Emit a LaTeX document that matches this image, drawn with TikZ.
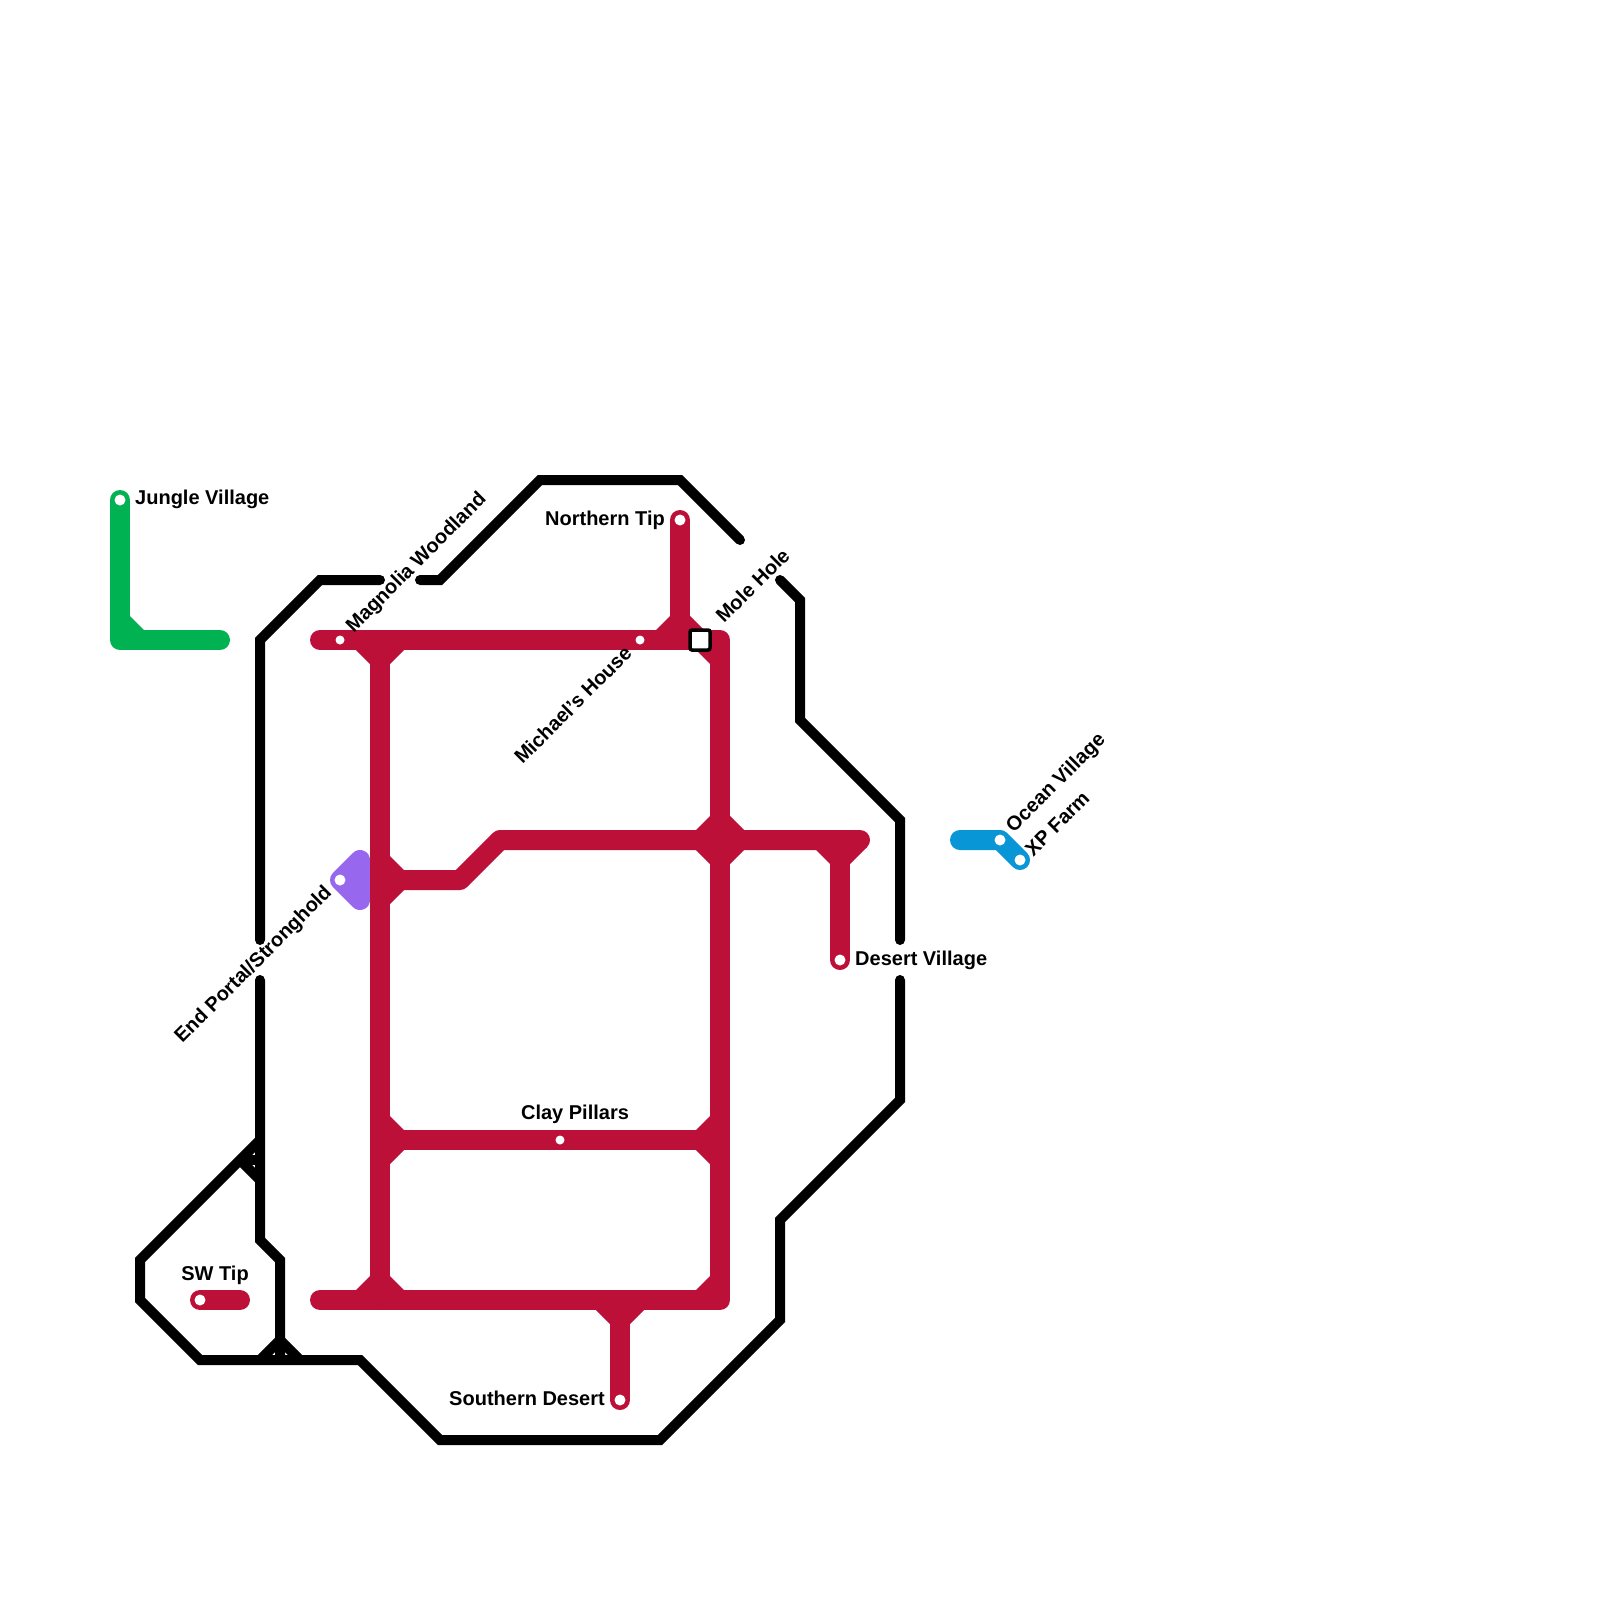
\documentclass[tikz,border=0pt]{standalone}
\usepackage{xcolor}
\usepackage{fontspec}
\setmainfont{Liberation Sans}
\usepackage{tikz}
\usetikzlibrary{positioning, backgrounds}
\definecolor{mtred}{HTML}{BD1038}
\definecolor{mtgreen}{HTML}{00B251}
\definecolor{mtblue}{HTML}{0896D7}
\definecolor{mtpurple}{HTML}{9768EE}
\newcommand{\fillet}[4]{\fill[#1, shift={(#2)}, xscale=#3, yscale=#4] (10,10) -- (24,10) -- (10,24) -- cycle;}

\begin{document}
\begin{tikzpicture}[
  x=1pt, y=-1pt,
  metro/.style={line width=20pt, line cap=round, line join=round},
  tunnel/.style={draw=black, line width=10pt, line cap=round, line join=miter},
  stub/.style={draw=black, line width=10pt, line cap=butt},
  stop/.style={circle, fill=white, inner sep=0pt, minimum size=11pt},
  halt/.style={circle, fill=white, inner sep=0pt, minimum size=9pt},
  transfer/.style={draw=black, fill=white, line width=3.5pt, rounded corners=2pt, inner sep=0pt, minimum size=20pt},
  lbl/.style={inner sep=0pt, on grid, font=\fontsize{20}{24}\selectfont\bfseries},
  up/.style={rotate=45, anchor=west},
  down/.style={rotate=45, anchor=east}
]
  \useasboundingbox (0,0) rectangle (1600,1600);

  \coordinate (jTL) at (380,640);
  \coordinate (jTR) at (720,640);
  \coordinate (jBL) at (380,1300);
  \coordinate (jBR) at (720,1300);
  \coordinate (jMidL) at (380,880);
  \coordinate (jMidR) at (720,840);
  \coordinate (jClayL) at (380,1140);
  \coordinate (jClayR) at (720,1140);
  \coordinate (jNorth) at (680,640);
  \coordinate (jSouth) at (620,1300);
  \coordinate (jDesert) at (840,840);
  \coordinate (jJungle) at (120,640);
  \coordinate (eNW) at (320,640);
  \coordinate (eSW) at (320,1300);
  \coordinate (eMidA) at (460,880);
  \coordinate (eMidB) at (500,840);
  \coordinate (eMidC) at (860,840);
  \coordinate (eTip) at (240,1300);
  \coordinate (eJungle) at (220,640);
  \coordinate (eOcean) at (960,840);

  \node[stop] (stJungle) at (120,500) {};
  \node[stop] (stNorth) at (680,520) {};
  \node[stop] (stDesert) at (840,960) {};
  \node[stop] (stSouth) at (620,1400) {};
  \node[stop] (stTip) at (200,1300) {};
  \node[stop] (stEnd) at (340,880) {};
  \node[stop] (stOcean) at (1000,840) {};
  \node[stop] (stFarm) at (1020,860) {};
  \node[halt] (stMagnolia) at (340,640) {};
  \node[halt] (stMichael) at (640,640) {};
  \node[halt] (stClay) at (560,1140) {};
  \node[transfer] (stMole) at (700,640) {};

  \node[lbl, above right=0.5pt and 15pt of stJungle, anchor=west] (lbJungle) {Jungle Village};
  \node[lbl, left=15pt of stNorth, anchor=east] (lbNorth) {Northern Tip};
  \node[lbl, right=15pt of stDesert, anchor=west] (lbDesert) {Desert Village};
  \node[lbl, above left=2pt and 15pt of stSouth, anchor=east] (lbSouth) {Southern Desert};
  \node[lbl, above right=25pt and 15pt of stTip] (lbTip) {SW Tip};
  \node[lbl, above right=26pt and 15pt of stClay] (lbClay) {Clay Pillars};
  \node[lbl, above right=10pt and 10pt of stMagnolia, up] (lbMagnolia) {Magnolia Woodland};
  \node[lbl, above right=21pt and 19pt of stMole, up] (lbMole) {Mole Hole};
  \node[lbl, below left=9.5pt and 12pt of stMichael, down] (lbMichael) {Michael's House};
  \node[lbl, below left=10pt and 11pt of stEnd, down] (lbEnd) {End Portal/Stronghold};
  \node[lbl, above right=10pt and 10pt of stOcean, up] (lbOcean) {Ocean Village};
  \node[lbl, above right=7.5pt and 8.5pt of stFarm, up] (lbFarm) {XP Farm};

  \begin{scope}[on background layer]
    \draw[metro, mtpurple, fill=mtpurple] (360,860) -- (stEnd.center) -- (360,900) -- cycle;
    \draw[metro, mtgreen] (stJungle.center) -- (jJungle) -- (eJungle);
    \fillet{mtgreen}{jJungle}{1}{-1}
    \draw[metro, mtblue] (eOcean) -- (stOcean.center) -- (stFarm.center);

    \draw[tunnel] (260,940) -- (260,640) -- (320,580) -- (380,580);
    \draw[tunnel] (420,580) -- (440,580) -- (540,480) -- (680,480) -- (740,540);
    \draw[tunnel] (780,580) -- (800,600) -- (800,720) -- (900,820) -- (900,940);
    \draw[tunnel] (900,980) -- (900,1100) -- (780,1220) -- (780,1320) -- (660,1440) -- (440,1440) -- (360,1360) -- (200,1360) -- (140,1300) -- (140,1260) -- (260,1140);
    \draw[tunnel] (260,980) -- (260,1240) -- (280,1260) -- (280,1360);
    \draw[stub] (240,1160) -- (260,1160);
    \draw[stub] (240,1160) -- (260,1180);
    \draw[stub] (280,1340) -- (260,1360);
    \draw[stub] (280,1340) -- (300,1360);

    \draw[metro, mtred] (eNW) -- (jTR) -- (jBR) -- (eSW);
    \draw[metro, mtred] (jTL) -- (jBL);
    \draw[metro, mtred] (jClayL) -- (jClayR);
    \draw[metro, mtred] (jMidL) -- (eMidA) -- (eMidB) -- (eMidC);
    \draw[metro, mtred] (jDesert) -- (stDesert.center);
    \draw[metro, mtred] (jNorth) -- (stNorth.center);
    \draw[metro, mtred] (jSouth) -- (stSouth.center);
    \draw[metro, mtred] (stTip.center) -- (eTip);

    \fillet{mtred}{jTL}{-1}{1}
    \fillet{mtred}{jTL}{1}{1}
    \fillet{mtred}{jNorth}{-1}{-1}
    \fillet{mtred}{jNorth}{1}{-1}
    \fillet{mtred}{jTR}{-1}{1}
    \fillet{mtred}{jMidL}{1}{-1}
    \fillet{mtred}{jMidL}{1}{1}
    \fillet{mtred}{jMidR}{1}{1}
    \fillet{mtred}{jMidR}{1}{-1}
    \fillet{mtred}{jMidR}{-1}{1}
    \fillet{mtred}{jMidR}{-1}{-1}
    \fillet{mtred}{jDesert}{-1}{1}
    \fill[mtred] (850,848) -- (867,847) -- (850,864) -- cycle;
    \fillet{mtred}{jClayL}{1}{-1}
    \fillet{mtred}{jClayL}{1}{1}
    \fillet{mtred}{jClayR}{-1}{-1}
    \fillet{mtred}{jClayR}{-1}{1}
    \fillet{mtred}{jBL}{-1}{-1}
    \fillet{mtred}{jBL}{1}{-1}
    \fillet{mtred}{jBR}{-1}{-1}
    \fillet{mtred}{jSouth}{-1}{1}
    \fillet{mtred}{jSouth}{1}{1}
  \end{scope}
\end{tikzpicture}
\end{document}
